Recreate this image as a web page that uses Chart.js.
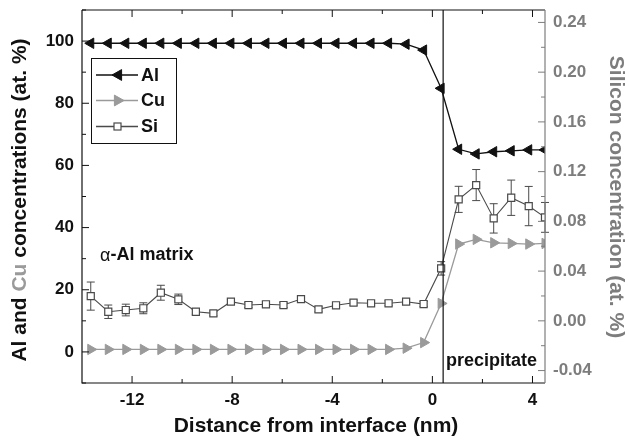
<!DOCTYPE html>
<html>
<head>
<meta charset="utf-8">
<script src="https://cdn.jsdelivr.net/npm/chart.js@4"></script>
<style>
html,body{margin:0;padding:0;background:#fff;}
#wrap{position:relative;width:629px;height:441px;}
</style>
</head>
<body>
<div id="wrap"><canvas id="c" width="629" height="441"></canvas></div>
<script>
// ---- data ----
const distances = [-13.65, -12.95, -12.25, -11.55, -10.85, -10.15, -9.45, -8.75, -8.05, -7.35, -6.65, -5.95, -5.25, -4.55, -3.85, -3.15, -2.45, -1.75, -1.05, -0.35, 0.35, 1.05, 1.75, 2.45, 3.15, 3.85, 4.5];
const alValues = [99.3, 99.3, 99.3, 99.3, 99.3, 99.3, 99.3, 99.3, 99.3, 99.3, 99.3, 99.3, 99.3, 99.3, 99.3, 99.3, 99.3, 99.3, 99.0, 97.1, 84.8, 65.2, 63.7, 64.4, 64.7, 65.0, 65.0];
const cuValues = [0.8, 0.8, 0.8, 0.8, 0.8, 0.8, 0.8, 0.8, 0.8, 0.8, 0.8, 0.8, 0.8, 0.8, 0.8, 0.8, 0.8, 0.8, 1.2, 3.0, 15.6, 34.7, 36.2, 35.1, 34.9, 34.7, 34.9];
const siValues = [0.0199, 0.0073, 0.0087, 0.0101, 0.0226, 0.0173, 0.0073, 0.0060, 0.0154, 0.0127, 0.0133, 0.0127, 0.0175, 0.0092, 0.0125, 0.0146, 0.0141, 0.0141, 0.0154, 0.0135, 0.0422, 0.0977, 0.1092, 0.0824, 0.0990, 0.0923, 0.0832];
const siErrors = [0.0113, 0.0054, 0.0047, 0.0044, 0.0060, 0.0042, 0.002, 0.002, 0.002, 0.002, 0.002, 0.002, 0.002, 0.002, 0.002, 0.002, 0.002, 0.002, 0.002, 0.002, 0.0054, 0.0105, 0.0125, 0.0118, 0.0142, 0.0158, 0.0120];
const xTicks = [-12, -8, -4, 0, 4];
const xMinorTicks = [-10, -6, -2, 2];
const leftTicks = [0, 20, 40, 60, 80, 100];
const leftMinorTicks = [-10, 10, 30, 50, 70, 90, 110];
const rightTicks = [-0.04, 0.00, 0.04, 0.08, 0.12, 0.16, 0.20, 0.24];
const rightMinorTicks = [-0.02, 0.02, 0.06, 0.10, 0.14, 0.18, 0.22];
const interfaceX = 0.43;
const seriesNames = ['Al', 'Cu', 'Si'];

const FONT = '"Liberation Sans", Arial, Helvetica, sans-serif';
const BLACK = '#111111';
const CU_GRAY = '#9a9a9a';
const SI_GRAY = '#4a4a4a';
const AXIS_GRAY = '#7d7d7d';

function pts(vals){ return distances.map((x,i)=>({x:x, y:vals[i]})); }

function drawTri(ctx, x, y, r, dir, color){
  // dir: -1 left, 1 right
  ctx.save();
  ctx.fillStyle = color; ctx.strokeStyle = color; ctx.lineWidth = 1;
  ctx.beginPath();
  ctx.moveTo(x + dir*r, y);
  ctx.lineTo(x - dir*r*0.6, y - r*0.9);
  ctx.lineTo(x - dir*r*0.6, y + r*0.9);
  ctx.closePath(); ctx.fill(); ctx.stroke();
  ctx.restore();
}

const errorBars = {
  id: 'errorBars',
  beforeDatasetsDraw(chart){
    const ctx = chart.ctx, x = chart.scales.x, yR = chart.scales.yR;
    ctx.save();
    ctx.strokeStyle = SI_GRAY; ctx.lineWidth = 1;
    distances.forEach((d,i)=>{
      const px = x.getPixelForValue(d);
      const t = yR.getPixelForValue(siValues[i] + siErrors[i]);
      const b = yR.getPixelForValue(siValues[i] - siErrors[i]);
      ctx.beginPath();
      ctx.moveTo(px, t); ctx.lineTo(px, b);
      ctx.moveTo(px-4, t); ctx.lineTo(px+4, t);
      ctx.moveTo(px-4, b); ctx.lineTo(px+4, b);
      ctx.stroke();
    });
    ctx.restore();
  }
};

const frame = {
  id: 'frame',
  afterDatasetsDraw(chart){
    const ctx = chart.ctx, a = chart.chartArea;
    const x = chart.scales.x, yL = chart.scales.yL, yR = chart.scales.yR;
    ctx.save();
    ctx.lineWidth = 1.2;
    // interface line
    const ix = x.getPixelForValue(interfaceX);
    ctx.strokeStyle = BLACK;
    ctx.beginPath(); ctx.moveTo(ix, a.top); ctx.lineTo(ix, a.bottom); ctx.stroke();
    // left, top, bottom axes
    ctx.beginPath();
    ctx.moveTo(a.left, a.top); ctx.lineTo(a.left, a.bottom); ctx.lineTo(a.right, a.bottom);
    ctx.moveTo(a.left, a.top); ctx.lineTo(a.right, a.top);
    ctx.stroke();
    // ticks on x (bottom & top, inward)
    ctx.lineWidth = 1;
    ctx.beginPath();
    xTicks.forEach(v=>{ const p = x.getPixelForValue(v);
      ctx.moveTo(p, a.bottom); ctx.lineTo(p, a.bottom-7);
      ctx.moveTo(p, a.top); ctx.lineTo(p, a.top+7); });
    xMinorTicks.forEach(v=>{ const p = x.getPixelForValue(v);
      ctx.moveTo(p, a.bottom); ctx.lineTo(p, a.bottom-4);
      ctx.moveTo(p, a.top); ctx.lineTo(p, a.top+4); });
    leftTicks.forEach(v=>{ const p = yL.getPixelForValue(v);
      ctx.moveTo(a.left, p); ctx.lineTo(a.left+7, p); });
    leftMinorTicks.forEach(v=>{ const p = yL.getPixelForValue(v);
      ctx.moveTo(a.left, p); ctx.lineTo(a.left+4, p); });
    ctx.stroke();
    // right axis gray
    ctx.strokeStyle = AXIS_GRAY; ctx.lineWidth = 1.2;
    ctx.beginPath(); ctx.moveTo(a.right, a.top); ctx.lineTo(a.right, a.bottom); ctx.stroke();
    ctx.lineWidth = 1;
    ctx.beginPath();
    rightTicks.forEach(v=>{ const p = yR.getPixelForValue(v);
      ctx.moveTo(a.right, p); ctx.lineTo(a.right-7, p); });
    rightMinorTicks.forEach(v=>{ const p = yR.getPixelForValue(v);
      ctx.moveTo(a.right, p); ctx.lineTo(a.right-4, p); });
    ctx.stroke();

    // legend
    ctx.strokeStyle = BLACK; ctx.lineWidth = 1;
    ctx.strokeRect(91.5, 58.5, 85, 85);
    const rows = [75, 100.5, 126.5];
    const lineCols = [BLACK, CU_GRAY, SI_GRAY];
    rows.forEach((ry,k)=>{
      ctx.strokeStyle = lineCols[k]; ctx.lineWidth = 1.3;
      ctx.beginPath(); ctx.moveTo(96, ry); ctx.lineTo(138, ry); ctx.stroke();
      if(k===0) drawTri(ctx, 118, ry, 6, -1, BLACK);
      if(k===1) drawTri(ctx, 118, ry, 6, 1, CU_GRAY);
      if(k===2){ ctx.fillStyle='#fff'; ctx.strokeStyle=SI_GRAY; ctx.lineWidth=1.2;
        ctx.fillRect(114, ry-3.5, 7, 7); ctx.strokeRect(114, ry-3.5, 7, 7); }
      ctx.fillStyle = BLACK; ctx.font = 'bold 18px ' + FONT;
      ctx.textAlign = 'left'; ctx.textBaseline = 'middle';
      ctx.fillText(seriesNames[k], 141, ry+1);
    });

    // annotations
    ctx.fillStyle = BLACK; ctx.textBaseline = 'middle'; ctx.textAlign = 'left';
    ctx.font = '18px ' + FONT;
    ctx.fillText('α', 100, 256);
    const aw = ctx.measureText('α').width;
    ctx.font = 'bold 18px ' + FONT;
    ctx.fillText('-Al matrix', 100 + aw, 255);
    ctx.fillText('precipitate', 446, 361);

    // x title
    ctx.font = 'bold 21px ' + FONT; ctx.textAlign = 'center';
    ctx.fillText('Distance from interface (nm)', 316, 426);

    // left title (rotated), "Cu" in gray
    ctx.save();
    ctx.translate(20, 200); ctx.rotate(-Math.PI/2);
    ctx.font = 'bold 21px ' + FONT; ctx.textAlign = 'left';
    const parts = [['Al and ', BLACK], ['Cu', CU_GRAY], [' concentrations (at. %)', BLACK]];
    const total = parts.reduce((s,p)=>s+ctx.measureText(p[0]).width, 0);
    let cx = -total/2;
    parts.forEach(p=>{ ctx.fillStyle = p[1]; ctx.fillText(p[0], cx, 0); cx += ctx.measureText(p[0]).width; });
    ctx.restore();

    // right title
    ctx.save();
    ctx.translate(616, 197); ctx.rotate(Math.PI/2);
    ctx.font = 'bold 21px ' + FONT; ctx.textAlign = 'center'; ctx.textBaseline = 'middle';
    ctx.fillStyle = AXIS_GRAY;
    ctx.fillText('Silicon concentration (at. %)', 0, 0);
    ctx.restore();

    ctx.restore();
  }
};

function fixPad(s){ s.paddingTop = 0; s.paddingBottom = 0; s.paddingLeft = 0; s.paddingRight = 0; }

new Chart(document.getElementById('c'), {
  type: 'line',
  data: {
    datasets: [
      { label: 'Al', data: pts(alValues), yAxisID: 'yL', borderColor: BLACK, borderWidth: 1.3,
        pointStyle: 'triangle', pointRotation: -90, pointRadius: 6, pointBackgroundColor: BLACK,
        pointBorderColor: BLACK, pointBorderWidth: 1, tension: 0, clip: 0 },
      { label: 'Cu', data: pts(cuValues), yAxisID: 'yL', borderColor: CU_GRAY, borderWidth: 1.3,
        pointStyle: 'triangle', pointRotation: 90, pointRadius: 6, pointBackgroundColor: CU_GRAY,
        pointBorderColor: CU_GRAY, pointBorderWidth: 1, tension: 0, clip: 0 },
      { label: 'Si', data: pts(siValues), yAxisID: 'yR', borderColor: SI_GRAY, borderWidth: 1.1,
        pointStyle: 'rect', pointRadius: 5, pointBackgroundColor: '#ffffff',
        pointBorderColor: SI_GRAY, pointBorderWidth: 1.2, tension: 0, clip: 0 }
    ]
  },
  options: {
    responsive: false,
    animation: false,
    events: [],
    layout: { padding: { top: 10, left: 0, right: 0, bottom: 0 } },
    plugins: { legend: { display: false }, tooltip: { enabled: false }, title: { display: false } },
    scales: {
      x: {
        type: 'linear', min: -14, max: 4.5,
        grid: { display: false, drawTicks: false }, border: { display: false },
        afterBuildTicks: s => { s.ticks = xTicks.map(v=>({value:v})); },
        afterFit: s => { s.height = 58; fixPad(s); },
        ticks: { padding: 7, color: BLACK, font: { family: FONT, size: 17, weight: 'bold' }, maxRotation: 0,
                 callback: v => String(v) }
      },
      yL: {
        type: 'linear', position: 'left', min: -10, max: 110,
        grid: { display: false, drawTicks: false }, border: { display: false },
        afterBuildTicks: s => { s.ticks = leftTicks.map(v=>({value:v})); },
        afterFit: s => { s.width = 82; fixPad(s); },
        ticks: { padding: 8, color: BLACK, font: { family: FONT, size: 17, weight: 'bold' },
                 callback: v => String(v) }
      },
      yR: {
        type: 'linear', position: 'right', min: -0.05, max: 0.25,
        grid: { display: false, drawTicks: false }, border: { display: false },
        afterBuildTicks: s => { s.ticks = rightTicks.map(v=>({value:v})); },
        afterFit: s => { s.width = 84; fixPad(s); },
        ticks: { padding: 8, color: AXIS_GRAY, font: { family: FONT, size: 17, weight: 'bold' },
                 callback: v => Number(v).toFixed(2) }
      }
    }
  },
  plugins: [errorBars, frame]
});
</script>
</body>
</html>
